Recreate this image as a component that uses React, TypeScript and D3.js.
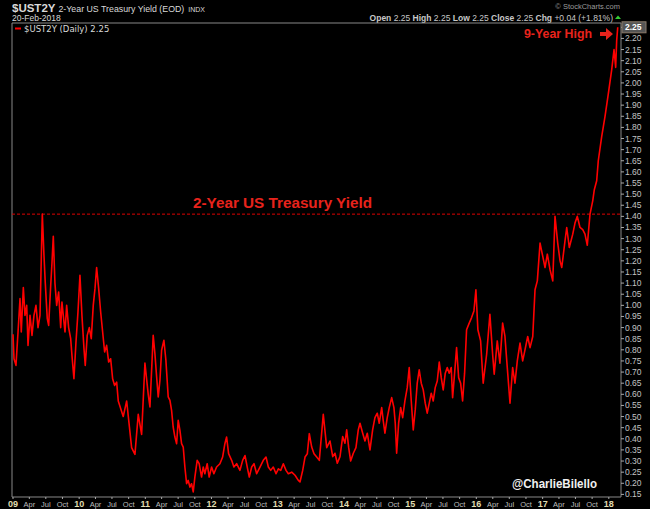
import React from "react";
import * as d3 from "d3";

// time of each reading, in decimal years
const times: number[] = [
  2009.000,2009.015,2009.045,2009.076,2009.106,2009.125,2009.156,2009.181,2009.207,2009.227,
  2009.257,2009.287,2009.317,2009.347,2009.378,2009.408,2009.443,2009.468,2009.488,2009.518,
  2009.539,2009.570,2009.589,2009.609,2009.634,2009.660,2009.690,2009.721,2009.740,2009.760,
  2009.786,2009.811,2009.841,2009.872,2009.891,2009.921,2009.952,2009.982,2010.012,2010.042,
  2010.073,2010.092,2010.122,2010.153,2010.183,2010.213,2010.239,2010.264,2010.295,2010.325,
  2010.355,2010.385,2010.415,2010.446,2010.476,2010.506,2010.536,2010.567,
  2010.591,2010.666,2010.718,2010.793,2010.843,2010.893,2010.944,2010.994,2011.044,
  2011.070,2011.119,2011.145,2011.171,2011.195,2011.221,2011.246,2011.281,2011.311,2011.346,
  2011.372,2011.397,2011.421,2011.447,2011.473,2011.497,2011.523,2011.548,2011.573,2011.598,
  2011.624,2011.648,2011.674,2011.699,2011.724,2011.749,2011.784,2011.814,2011.850,2011.875,
  2011.900,2011.935,2011.965,2012.002,2012.036,2012.077,2012.127,2012.168,2012.202,2012.228,
  2012.258,2012.304,2012.338,2012.379,2012.429,2012.470,2012.505,2012.539,2012.570,2012.606,
  2012.641,2012.681,2012.731,2012.781,2012.822,2012.857,2012.893,2012.932,2012.973,2013.008,
  2013.044,2013.083,2013.124,2013.159,2013.210,2013.260,2013.310,2013.335,2013.376,2013.411,
  2013.446,2013.476,2013.512,2013.547,2013.588,2013.627,2013.687,2013.739,
  2013.789,2013.830,2013.864,2013.899,2013.940,2013.980,2014.015,2014.041,2014.071,2014.101,
  2014.141,2014.181,2014.216,2014.242,2014.283,2014.317,2014.352,2014.393,2014.433,2014.468,
  2014.503,2014.533,2014.570,2014.594,2014.619,2014.654,2014.684,2014.721,2014.755,2014.775,
  2014.796,2014.826,2014.857,2014.887,2014.921,2014.956,2014.986,2015.017,2015.047,2015.077,
  2015.107,2015.137,2015.168,2015.198,2015.228,2015.258,2015.289,2015.319,2015.349,2015.379,
  2015.410,2015.440,2015.470,2015.500,2015.531,2015.561,2015.591,2015.621,2015.642,2015.672,
  2015.702,2015.733,2015.763,2015.793,2015.823,2015.853,2015.893,2015.929,2015.964,2015.994,
  2016.024,
  2016.065,2016.104,2016.156,2016.205,2016.246,2016.270,2016.316,2016.356,2016.397,2016.432,
  2016.467,2016.508,2016.548,2016.583,2016.618,2016.659,2016.699,2016.734,2016.775,2016.810,
  2016.851,2016.885,2016.920,2016.961,2017.002,2017.036,2017.071,2017.112,2017.153,2017.187,
  2017.228,2017.263,2017.289,2017.338,2017.364,2017.403,2017.455,2017.489,2017.524,2017.565,
  2017.606,2017.640,2017.675,2017.716,2017.757,2017.781,2017.817,2017.841,2017.893,2017.943,
  2017.992,2018.044,2018.079,2018.104,2018.119,2018.135,
];

// 2-year yield readings (%)
const yields: number[] = [
  0.87,0.76,0.73,0.88,1.03,0.88,1.08,0.955,1.00,0.82,
  0.955,0.865,0.955,1.00,0.90,0.955,1.41,1.225,1.10,0.94,
  0.91,1.09,1.19,1.31,1.10,1.00,1.06,0.90,1.015,0.955,
  0.88,1.00,0.90,0.85,0.775,0.67,0.835,0.97,1.135,0.955,
  0.805,0.73,0.865,0.90,0.85,1.00,1.075,1.17,1.075,0.97,
  0.88,0.79,0.82,0.745,0.76,0.67,0.64,0.655,
  0.57,0.50,0.57,0.36,0.33,0.51,0.42,0.74,0.60,
  0.543,0.865,0.783,0.678,0.588,0.663,0.798,0.843,0.753,0.588,
  0.573,0.528,0.453,0.408,0.378,0.483,0.438,0.378,0.363,0.273,
  0.198,0.213,0.183,0.198,0.161,0.228,0.303,0.288,0.228,0.273,
  0.243,0.288,0.228,0.273,0.243,0.273,0.288,0.318,0.378,0.408,
  0.333,0.303,0.273,0.288,0.258,0.303,0.325,0.273,0.228,0.273,
  0.288,0.243,0.273,0.303,0.318,0.273,0.258,0.273,0.243,0.265,
  0.258,0.288,0.258,0.243,0.25,0.236,0.213,0.206,0.258,0.318,
  0.333,0.423,0.363,0.333,0.318,0.303,0.51,0.36,
  0.39,0.32,0.335,0.29,0.32,0.41,0.38,0.44,0.36,0.30,
  0.335,0.36,0.44,0.47,0.425,0.39,0.425,0.35,0.44,0.495,
  0.515,0.47,0.54,0.48,0.425,0.495,0.54,0.585,0.54,0.47,
  0.335,0.47,0.54,0.495,0.57,0.63,0.72,0.57,0.44,0.53,
  0.65,0.71,0.65,0.62,0.56,0.515,0.56,0.605,0.57,0.63,
  0.66,0.745,0.675,0.62,0.695,0.72,0.695,0.72,0.585,0.695,
  0.81,0.675,0.65,0.57,0.695,0.89,0.92,0.945,0.975,1.07,
  0.89,
  0.84,0.65,0.78,0.96,0.78,0.69,0.84,0.74,0.92,0.86,
  0.72,0.56,0.72,0.65,0.75,0.83,0.75,0.80,0.86,0.81,
  0.86,1.07,1.11,1.28,1.22,1.17,1.23,1.16,1.11,1.40,
  1.28,1.20,1.17,1.29,1.35,1.26,1.32,1.37,1.40,1.35,
  1.34,1.32,1.27,1.41,1.47,1.52,1.56,1.65,1.76,1.85,
  1.95,2.06,2.15,2.07,2.19,2.25,
];

const yTicks: number[] = d3.range(15, 226, 5).map((v) => v / 100);
const monthNames: string[] = ["Jan","Feb","Mar","Apr","May","Jun","Jul","Aug","Sep","Oct","Nov","Dec"];
const priorHigh = 1.41;
const lastValue = 2.25;

function toDate(t: number): Date {
  const yr = Math.floor(t);
  const a = new Date(yr, 0, 1).getTime();
  const b = new Date(yr + 1, 0, 1).getTime();
  return new Date(a + (t - yr) * (b - a));
}

export default function App() {
  const W = 650, H = 509;
  const left = 12, right = 621, top = 23, bottom = 497;
  const data = times.map((t, i) => ({ date: toDate(t), v: yields[i] }));
  const x = d3.scaleTime()
    .domain([new Date(2009, 0, 1), new Date(2018, 0, 1)])
    .range([13, 13 + 9 * 66.2]);
  const y = d3.scaleLinear().domain([0.15, 2.25]).range([494.4, 27.3]);
  const line = d3.line<{ date: Date; v: number }>()
    .x((d) => x(d.date))
    .y((d) => y(d.v));
  const xTicks = d3.timeMonth.every(3)!.range(new Date(2009, 0, 1), new Date(2018, 0, 2));
  const font = "'Liberation Sans', Arial, sans-serif";

  return (
    <svg width={W} height={H} style={{ position: "absolute", left: 0, top: 0, background: "#000" }} fontFamily={font}>
      <rect x={0} y={0} width={W} height={H} fill="#000" />
      {/* header */}
      <text x={12} y={12} fill="#d8d8d8">
        <tspan fontSize={11.5} fontWeight="bold">$UST2Y</tspan>
        <tspan fontSize={8.8} dx={3}>2-Year US Treasury Yield (EOD)</tspan>
        <tspan fontSize={7} dx={4}>INDX</tspan>
      </text>
      <text x={12} y={21} fill="#d8d8d8" fontSize={8.5}>20-Feb-2018</text>
      <text x={620} y={9} fill="#9a9a9a" fontSize={7.5} textAnchor="end">© StockCharts.com</text>
      <text x={613} y={21} fill="#c8c8c8" fontSize={8.5} textAnchor="end">
        <tspan fontWeight="bold">Open</tspan> 2.25 <tspan fontWeight="bold"> High</tspan> 2.25 <tspan fontWeight="bold"> Low</tspan> 2.25 <tspan fontWeight="bold"> Close</tspan> 2.25 <tspan fontWeight="bold"> Chg</tspan> +0.04 (+1.81%)
      </text>
      <path d="M615,19 L621,19 L618,15.5 Z" fill="#33cc33" />

      {/* frame */}
      <line x1={left} x2={right} y1={top} y2={top} stroke="#888" strokeWidth={1} />
      <line x1={left} x2={left} y1={top} y2={bottom} stroke="#888" strokeWidth={1} />
      <line x1={right} x2={right} y1={top} y2={bottom} stroke="#888" strokeWidth={1} />
      <line x1={left} x2={right} y1={bottom} y2={bottom} stroke="#888" strokeWidth={1} />

      {/* legend */}
      <rect x={15} y={27.5} width={6} height={2} fill="#ff0000" />
      <text x={24} y={32} fill="#d8d8d8" fontSize={8.5} fontFamily="'DejaVu Sans', sans-serif">$UST2Y (Daily) 2.25</text>

      {/* y axis */}
      {yTicks.map((t) => (
        <g key={t}>
          <line x1={right} x2={right + 3} y1={y(t)} y2={y(t)} stroke="#aaa" />
          {t !== lastValue && (
            <text x={right + 4} y={y(t) + 3} fill="#c4c4c4" fontSize={8.5}>{t.toFixed(2)}</text>
          )}
        </g>
      ))}
      <rect x={right + 1} y={y(lastValue) - 5.5} width={24} height={11} fill="#555" stroke="#8a7a6a" strokeWidth={1} />
      <text x={right + 4} y={y(lastValue) + 3} fill="#fff" fontSize={8.5} fontWeight="bold">2.25</text>

      {/* x axis */}
      {xTicks.map((d) => {
        const m = d.getMonth();
        const isYear = m === 0;
        const px = x(d);
        return (
          <g key={+d}>
            <line x1={px} x2={px} y1={bottom} y2={bottom + 2} stroke="#aaa" />
            <text x={px} y={507} textAnchor="middle" fill={isYear ? "#e0dcb0" : "#bdbdbd"} fontSize={isYear ? 9 : 7.5} fontWeight={isYear ? "bold" : "normal"}>
              {isYear ? d3.timeFormat("%y")(d) : monthNames[m]}
            </text>
          </g>
        );
      })}

      {/* horizontal dashed line at prior high */}
      <line x1={left} x2={right} y1={y(priorHigh)} y2={y(priorHigh)} stroke="#e00000" strokeWidth={1} strokeDasharray="3,2" />

      {/* series */}
      <path d={line(data) || ""} fill="none" stroke="#ff0000" strokeWidth={1.6} strokeLinejoin="round" />

      {/* annotations */}
      <text x={193} y={208} fill="#e8231c" fontSize={14} fontWeight="bold" textLength={179} lengthAdjust="spacingAndGlyphs">2-Year US Treasury Yield</text>
      <text x={524} y={38} fill="#e8231c" fontSize={13} fontWeight="bold" textLength={68} lengthAdjust="spacingAndGlyphs">9-Year High</text>
      <path d="M600,32 L606,32 L606,28 L613,34 L606,40 L606,36 L600,36 Z" fill="#e8231c" />
      <text x={512} y={488} fill="#f0f0f0" fontSize={13.5} fontWeight="bold" textLength={85} lengthAdjust="spacingAndGlyphs">@CharlieBilello</text>
    </svg>
  );
}
